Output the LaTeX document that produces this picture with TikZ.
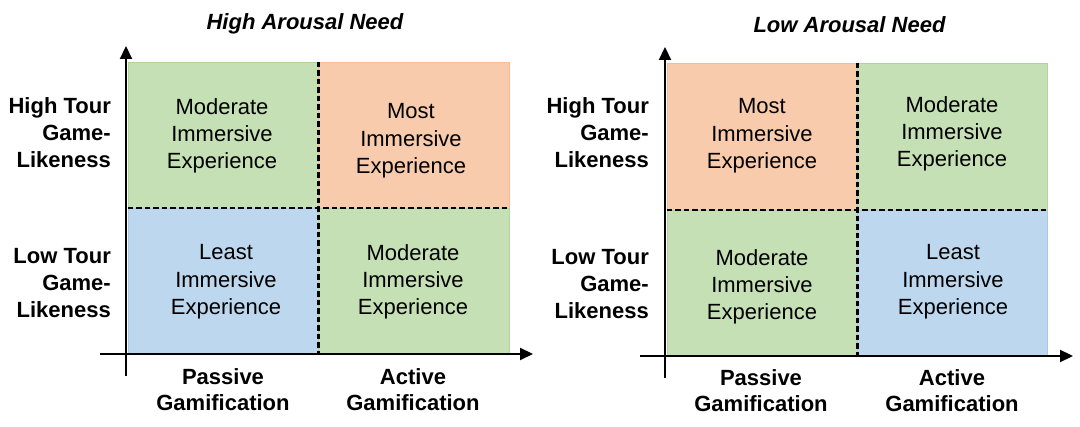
\documentclass[tikz,border=0pt]{standalone}
\usepackage{fontspec}
\setmainfont{Liberation Sans}
\usetikzlibrary{arrows.meta}
\definecolor{qgreen}{HTML}{C5E0B4}
\definecolor{qgreenb}{HTML}{B0D59A}
\definecolor{qorange}{HTML}{F8CBAD}
\definecolor{qorangeb}{HTML}{F4BC98}
\definecolor{qblue}{HTML}{BDD7EE}
\definecolor{qblueb}{HTML}{A9CBE8}
\tikzset{
  quad/.style={rectangle, inner sep=0pt, line width=0.8pt, minimum width=#1},
  qg/.style={quad=190pt, fill=qgreen, draw=qgreenb},
  qo/.style={quad=190pt, fill=qorange, draw=qorangeb},
  qb/.style={quad=190pt, fill=qblue, draw=qblueb},
  qtext/.style={align=center, inner sep=0pt, font=\fontsize{22}{27.3}\selectfont},
  ylab/.style={align=right, inner sep=0pt, anchor=east, font=\fontsize{22}{27}\selectfont\bfseries},
  xlab/.style={align=center, inner sep=0pt, font=\fontsize{22}{26}\selectfont\bfseries},
  ttl/.style={inner sep=0pt, font=\fontsize{22}{26}\selectfont\bfseries\itshape},
  axis/.style={line width=2.2pt, -{Triangle[length=13pt,width=12pt]}},
  divider/.style={line width=2.2pt, dash pattern=on 5.5pt off 3pt},
}
\begin{document}
\begin{tikzpicture}[x=1pt,y=-1pt]
\useasboundingbox (0,0) rectangle (1080,427);
% ---------------- Left chart ----------------
\node[qg, minimum height=146pt] (ltl) at (223,135) {};
\node[qo, minimum height=146pt, minimum width=191pt] (ltr) at (413.5,135) {};
\node[qb, minimum height=146pt] (lbl) at (223,281) {};
\node[qg, minimum height=146pt, minimum width=191pt] (lbr) at (413.5,281) {};
\node[qtext] (ltlt) at (222,136) {Moderate\\Immersive\\Experience};
\node[qtext] (ltrt) at (411,141) {Most\\Immersive\\Experience};
\node[qtext] (lblt) at (226,282) {Least\\Immersive\\Experience};
\node[qtext] (lbrt) at (413,282) {Moderate\\Immersive\\Experience};
\draw[divider] (ltl.south west) -- (ltr.south east);
\draw[divider] (ltl.north east) -- (lbl.south east);
\coordinate (lyb) at (126,376);
\coordinate (lyt) at (126,46);
\coordinate (lxl) at (100,354);
\coordinate (lxr) at (533,354);
\draw[axis] (lyb) -- (lyt);
\draw[axis] (lxl) -- (lxr);
\node[ylab] (lhy) at (111,133) {High Tour\\Game-\\Likeness};
\node[ylab] (lly) at (111,283) {Low Tour\\Game-\\Likeness};
\node[xlab] (lpx) at (223,390) {Passive\\Gamification};
\node[xlab] (lax) at (413,390) {Active\\Gamification};
\node[ttl] (ltitle) at (305,23.5) {High Arousal Need};
% ---------------- Right chart ----------------
\node[qo, minimum height=147pt] (rtl) at (762,136.5) {};
\node[qg, minimum height=147pt] (rtr) at (952,136.5) {};
\node[qg, minimum height=146pt] (rbl) at (762,283) {};
\node[qb, minimum height=146pt] (rbr) at (952,283) {};
\node[qtext] (rtlt) at (762,136) {Most\\Immersive\\Experience};
\node[qtext] (rtrt) at (952,134) {Moderate\\Immersive\\Experience};
\node[qtext] (rblt) at (762,287) {Moderate\\Immersive\\Experience};
\node[qtext] (rbrt) at (953,282) {Least\\Immersive\\Experience};
\draw[divider] (rtl.south west) -- (rtr.south east);
\draw[divider] (rtl.north east) -- (rbl.south east);
\coordinate (ryb) at (665,378);
\coordinate (ryt) at (665,47);
\coordinate (rxl) at (640,356);
\coordinate (rxr) at (1073,356);
\draw[axis] (ryb) -- (ryt);
\draw[axis] (rxl) -- (rxr);
\node[ylab] (rhy) at (649,133) {High Tour\\Game-\\Likeness};
\node[ylab] (rly) at (649,284) {Low Tour\\Game-\\Likeness};
\node[xlab] (rpx) at (761,391) {Passive\\Gamification};
\node[xlab] (rax) at (952,391) {Active\\Gamification};
\node[ttl] (rtitle) at (849.5,25) {Low Arousal Need};
\end{tikzpicture}
\end{document}
